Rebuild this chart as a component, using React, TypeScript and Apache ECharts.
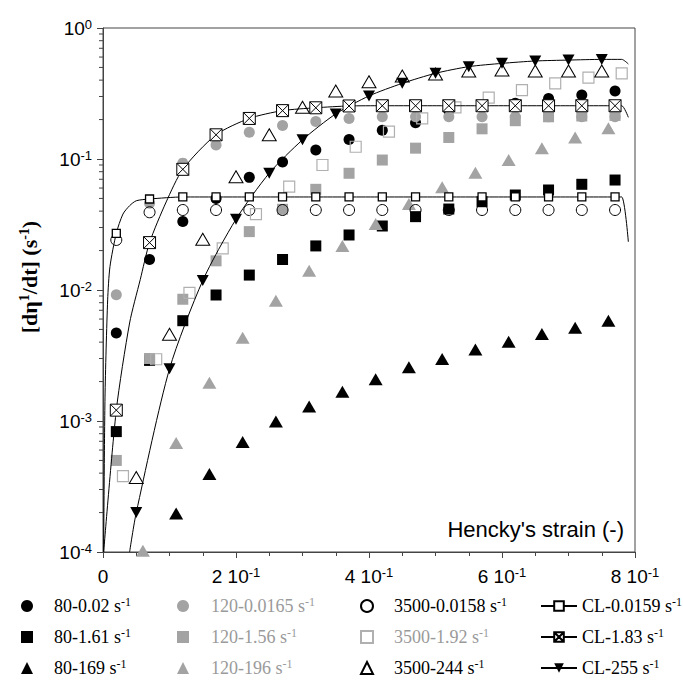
import { useEffect, useRef } from 'react';
import * as echarts from 'echarts';

// ---------- x positions of the measured points ----------
const xA = [0.02, 0.07, 0.12, 0.17, 0.22, 0.27, 0.32, 0.37, 0.42, 0.47, 0.52, 0.57, 0.62, 0.67, 0.72, 0.77];
const xB = [0.03, 0.08, 0.13, 0.18, 0.23, 0.28, 0.33, 0.38, 0.43, 0.48, 0.53, 0.58, 0.63, 0.68, 0.73, 0.78];
const xC = [0.05, 0.10, 0.15, 0.20, 0.25, 0.30, 0.35, 0.40, 0.45, 0.50, 0.55, 0.60, 0.65, 0.70, 0.75];
const x169 = [0.11, 0.16, 0.21, 0.26, 0.31, 0.36, 0.41, 0.46, 0.51, 0.56, 0.61, 0.66, 0.71, 0.76];
const x196 = [0.06, 0.11, 0.16, 0.21, 0.26, 0.31, 0.36, 0.41, 0.46, 0.51, 0.56, 0.61, 0.66, 0.71, 0.76];

// ---------- series values ----------
const y80_002 = [0.0047, 0.0171, 0.0334, 0.050, 0.0724, 0.095, 0.117, 0.141, 0.166, 0.189, 0.235, 0.25, 0.266, 0.29, 0.308, 0.33];
const y80_161 = [0.00083, 0.0029, 0.00583, 0.00916, 0.0130, 0.0171, 0.0217, 0.0263, 0.0308, 0.0363, 0.0415, 0.0472, 0.0531, 0.058, 0.0641, 0.0691];
const y80_169 = [0.000197, 0.000394, 0.00069, 0.00099, 0.00129, 0.00167, 0.00208, 0.00257, 0.00297, 0.00352, 0.00403, 0.00461, 0.00515, 0.00583];

const y120_0165 = [0.0092, 0.046, 0.093, 0.128, 0.160, 0.180, 0.193, 0.204, 0.210, 0.210, 0.210, 0.210, 0.210, 0.210, 0.210, 0.210];
const y120_156 = [0.0005, 0.0030, 0.0085, 0.0167, 0.0279, 0.0413, 0.0587, 0.0778, 0.0982, 0.121, 0.146, 0.170, 0.196, 0.21, 0.213, 0.215];
const y120_196 = [0.000102, 0.00068, 0.00196, 0.00432, 0.00828, 0.0140, 0.0217, 0.0319, 0.0453, 0.0608, 0.0786, 0.0982, 0.121, 0.146, 0.172];

const y3500_0158 = [0.0241, 0.0392, 0.0408, 0.0408, 0.0408, 0.0408, 0.0408, 0.0408, 0.0408, 0.0408, 0.0408, 0.0408, 0.0408, 0.0408, 0.0408, 0.0408];
const y3500_192 = [0.00038, 0.00296, 0.0095, 0.0208, 0.038, 0.0615, 0.090, 0.124, 0.162, 0.204, 0.248, 0.294, 0.336, 0.378, 0.418, 0.451];
const y3500_244 = [0.00037, 0.0046, 0.0244, 0.0733, 0.153, 0.248, 0.330, 0.389, 0.430, 0.445, 0.470, 0.478, 0.47, 0.47, 0.47];

// model curves (CL): markers + extra curve points (no marker)
const yCL0159 = [0.0271, 0.0495, 0.0513, 0.0513, 0.0513, 0.0513, 0.0513, 0.0513, 0.0513, 0.0513, 0.0513, 0.0513, 0.0513, 0.0513, 0.0513, 0.0513];
const cxCL0159 = [0.001, 0.003, 0.007, 0.0105, 0.03, 0.04, 0.05, 0.78, 0.79];
const cyCL0159 = [0.0001, 0.0015, 0.0084, 0.0151, 0.038, 0.044, 0.048, 0.0513, 0.0233];

const yCL183 = [0.00121, 0.023, 0.0834, 0.153, 0.204, 0.234, 0.246, 0.254, 0.255, 0.255, 0.255, 0.255, 0.255, 0.255, 0.255, 0.255];
const cxCL183 = [0.001, 0.04, 0.056, 0.095, 0.78, 0.79];
const cyCL183 = [0.0001, 0.0056, 0.012, 0.047, 0.255, 0.208];

const yCL255 = [0.0002, 0.0025, 0.0118, 0.0347, 0.078, 0.14, 0.221, 0.303, 0.378, 0.451, 0.507, 0.537, 0.56, 0.569, 0.576];
const cxCL255 = [0.04, 0.78, 0.79];
const cyCL255 = [0.0001, 0.576, 0.531];

// ---------- axis ticks ----------
const yMinorTicks = [
  2e-4, 3e-4, 4e-4, 5e-4, 6e-4, 7e-4, 8e-4, 9e-4,
  2e-3, 3e-3, 4e-3, 5e-3, 6e-3, 7e-3, 8e-3, 9e-3,
  2e-2, 3e-2, 4e-2, 5e-2, 6e-2, 7e-2, 8e-2, 9e-2,
  0.2, 0.3, 0.4, 0.5, 0.6, 0.7, 0.8, 0.9,
];

const N = {
  a1: '80-0.02 s-1', a2: '80-1.61 s-1', a3: '80-169 s-1',
  b1: '120-0.0165 s-1', b2: '120-1.56 s-1', b3: '120-196 s-1',
  c1: '3500-0.0158 s-1', c2: '3500-1.92 s-1', c3: '3500-244 s-1',
  d1: 'CL-0.0159 s-1', d2: 'CL-1.83 s-1', d3: 'CL-255 s-1',
};
const grayNames = [N.b1, N.b2, N.b3, N.c2];

const GRAY = '#a3a3a3';
const SANS = 'Liberation Sans';
const SERIF = 'Liberation Serif';
const CROSS = 'path://M0 0H20V20H0Z M0 0L20 20 M20 0L0 20';

const pts = (xs: number[], ys: number[]) => xs.map((x, i) => [x, ys[i]]);

function scatter(name: string, xs: number[], ys: number[], symbol: string, size: any, itemStyle: any) {
  return { type: 'scatter', name, data: pts(xs, ys), symbol, symbolSize: size, itemStyle: { opacity: 1, ...itemStyle } };
}

function clLine(name: string, mx: number[], my: number[], cx: number[], cy: number[], symbol: string, size: any, itemStyle: any, extra: any = {}) {
  const items: any[] = [
    ...mx.map((x, i) => ({ value: [x, my[i]] })),
    ...cx.map((x, i) => ({ value: [x, cy[i]], symbol: 'none' })),
  ].sort((a, b) => a.value[0] - b.value[0]);
  return {
    type: 'line', name, data: items, symbol, symbolSize: size, showSymbol: true, showAllSymbol: true,
    smooth: 0.25, lineStyle: { color: '#000', width: 1 }, itemStyle, ...extra,
  };
}

function legendCol(names: string[], left: number, iconW: number, pad: number) {
  const rich: any = {
    t: { fontFamily: SERIF, fontSize: 18, lineHeight: 20, color: '#000', padding: [0, 0, 0, pad] },
    s: { fontFamily: SERIF, fontSize: 12, lineHeight: 12, color: '#000', verticalAlign: 'top' },
    tg: { fontFamily: SERIF, fontSize: 18, lineHeight: 20, color: '#9a9a9a', padding: [0, 0, 0, pad] },
    sg: { fontFamily: SERIF, fontSize: 12, lineHeight: 12, color: '#9a9a9a', verticalAlign: 'top' },
  };
  return {
    orient: 'vertical', left, top: 596, padding: 0, itemGap: 12,
    itemWidth: iconW, itemHeight: 12, selectedMode: false, data: names,
    formatter: (name: string) => {
      const base = name.replace(/ s-1$/, '');
      return grayNames.includes(name) ? `{tg|${base} s}{sg|-1}` : `{t|${base} s}{s|-1}`;
    },
    textStyle: { fontFamily: SERIF, fontSize: 18, rich },
  };
}

export default function App() {
  const ref = useRef<HTMLDivElement>(null);
  useEffect(() => {
    const chart = echarts.init(ref.current!, null, { renderer: 'svg' });
    const supRich = {
      b: { fontFamily: SANS, fontSize: 19, lineHeight: 20, color: '#000' },
      s: { fontFamily: SANS, fontSize: 13, lineHeight: 13, color: '#000', verticalAlign: 'top' },
    };
    const option: any = {
      animation: false,
      backgroundColor: '#fff',
      grid: { left: 103, right: 48, top: 28, bottom: 130, show: true, borderColor: '#444', borderWidth: 1, backgroundColor: 'transparent' },
      xAxis: {
        type: 'value', min: 0, max: 0.8, interval: 0.2,
        axisLine: { lineStyle: { color: '#444', width: 1 } },
        axisTick: { show: true, length: 6, lineStyle: { color: '#444' } },
        minorTick: { show: true, splitNumber: 4, length: 4, lineStyle: { color: '#444' } },
        splitLine: { show: false },
        axisLabel: {
          margin: 14, rich: supRich,
          formatter: (v: number) => (Math.abs(v) < 1e-9 ? '{b|0}' : `{b|${Math.round(v * 10)} 10}{s|-1}`),
        },
      },
      yAxis: {
        type: 'log', logBase: 10, min: 0.0001, max: 1,
        name: '{b|[dη}{s|1}{b|/dt] (s}{s|-1}{b|)}',
        nameLocation: 'middle', nameGap: 62,
        nameTextStyle: {
          padding: [0, 0, 0, 26],
          rich: {
            b: { fontFamily: SERIF, fontWeight: 'bold', fontSize: 22, lineHeight: 24, color: '#000' },
            s: { fontFamily: SERIF, fontWeight: 'bold', fontSize: 14, lineHeight: 14, color: '#000', verticalAlign: 'top' },
          },
        },
        axisLine: { show: true, lineStyle: { color: '#444', width: 1 } },
        axisTick: { show: true, length: 6, lineStyle: { color: '#444' } },
        splitLine: { show: false },
        axisLabel: {
          margin: 11, rich: supRich,
          formatter: (v: number) => `{b|10}{s|${Math.round(Math.log10(v))}}`,
        },
      },
      legend: [
        legendCol([N.a1, N.a2, N.a3], 21, 12, 16),
        legendCol([N.b1, N.b2, N.b3], 177, 12, 17),
        legendCol([N.c1, N.c2, N.c3], 360, 12, 16),
        legendCol([N.d1, N.d2, N.d3], 540, 36, 0),
      ],
      graphic: [
        {
          type: 'text', x: 624, y: 529,
          style: { text: "Hencky's strain (-)", fontFamily: SANS, fontSize: 22, fill: '#000', align: 'right', verticalAlign: 'middle' },
        },
      ],
      series: [
        {
          type: 'custom', silent: true, clip: false,
          data: yMinorTicks.map((v) => [0, v]),
          renderItem: (_p: any, api: any) => {
            const p = api.coord([api.value(0), api.value(1)]);
            return { type: 'line', shape: { x1: p[0] - 4, y1: p[1], x2: p[0], y2: p[1] }, style: { stroke: '#444', lineWidth: 1 } };
          },
        },
        scatter(N.a1, xA, y80_002, 'circle', 11, { color: '#000' }),
        scatter(N.a2, xA, y80_161, 'rect', 11, { color: '#000' }),
        scatter(N.a3, x169, y80_169, 'triangle', [14, 12], { color: '#000' }),
        scatter(N.b1, xA, y120_0165, 'circle', 11, { color: GRAY }),
        scatter(N.b2, xA, y120_156, 'rect', 11, { color: GRAY }),
        scatter(N.b3, x196, y120_196, 'triangle', [14, 12], { color: GRAY }),
        scatter(N.c1, xA, y3500_0158, 'circle', 11, { color: 'rgba(0,0,0,0)', borderColor: '#000', borderWidth: 1 }),
        scatter(N.c2, xB, y3500_192, 'rect', 11, { color: 'rgba(0,0,0,0)', borderColor: '#b0b0b0', borderWidth: 1.2 }),
        scatter(N.c3, xC, y3500_244, 'triangle', [14, 12], { color: 'rgba(0,0,0,0)', borderColor: '#000', borderWidth: 1 }),
        clLine(N.d1, xA, yCL0159, cxCL0159, cyCL0159, 'rect', 8, { color: '#fff', borderColor: '#000', borderWidth: 1.3 }),
        clLine(N.d2, xA, yCL183, cxCL183, cyCL183, CROSS, 12, { color: '#fff', borderColor: '#000', borderWidth: 1 }),
        clLine(N.d3, xC, yCL255, cxCL255, cyCL255, 'triangle', [12, 11], { color: '#000' }, { symbolRotate: 180 }),
      ],
    };
    chart.setOption(option);
    return () => chart.dispose();
  }, []);
  return <div ref={ref} style={{ position: 'fixed', left: 0, top: 0, width: 683, height: 682, background: '#fff' }} />;
}
